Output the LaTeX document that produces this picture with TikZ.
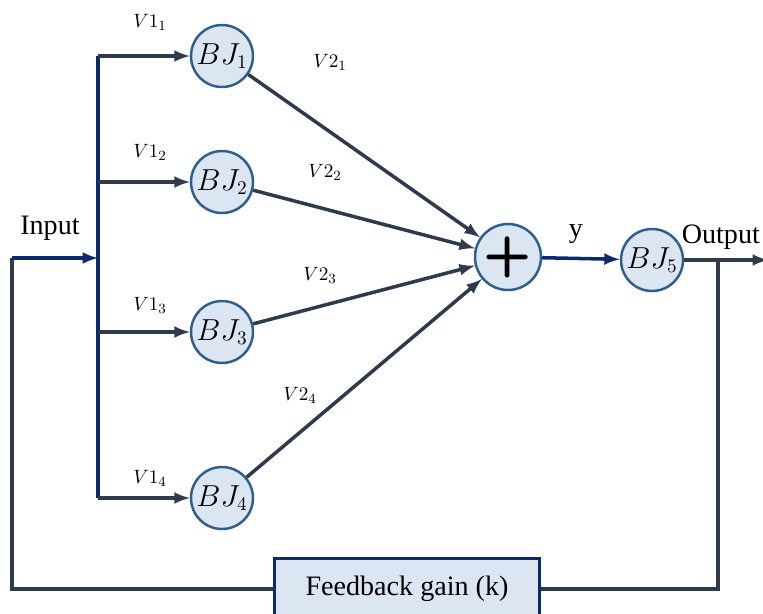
\documentclass[tikz,border=0pt]{standalone}
\usepackage{fontspec}
\setmainfont{Liberation Serif}
\usepackage{tikz}
\definecolor{navy}{HTML}{0B2A6E}
\definecolor{slate}{HTML}{2F3B4C}
\definecolor{paleblue}{HTML}{DCE6F2}
\definecolor{ringblue}{HTML}{2E5E8C}

\begin{document}
\begin{tikzpicture}[x=0.02cm, y=-0.02cm,
			every node/.style={font=\fontsize{16}{19}\selectfont, color=black},
			bj/.style={circle, draw=ringblue, fill=paleblue, line width=1.4pt, minimum size=1.24cm, inner sep=0pt, font=\fontsize{16}{18}\selectfont},
			arr/.style={-latex, line width=2pt, draw=slate},
			bus/.style={line width=2pt, draw=navy},
			fb/.style={line width=2pt, draw=slate},
			lbl/.style={font=\fontsize{11}{13}\selectfont},
			gain/.style={draw=navy, fill=paleblue, line width=2pt, minimum width=5.3cm, minimum height=1.22cm, align=center}
		]
		\useasboundingbox (0,0) rectangle (763,613);

		\node[bj] (bj1) at (222,56) {$BJ_1$};
		\node[bj] (bj2) at (222,182) {$BJ_2$};
		\node[bj] (bj3) at (222,332) {$BJ_3$};
		\node[bj] (bj4) at (222,498) {$BJ_4$};
		\node[bj, minimum size=1.32cm] (sum) at (508,257) {\fontsize{32}{32}\selectfont\sffamily\bfseries +};
		\node[bj] (bj5) at (652,260) {$BJ_5$};
		\node[gain] (gain) at (407,589) {Feedback gain (k)};

		\coordinate (bus1) at (98,56);
		\coordinate (bus2) at (98,182);
		\coordinate (bus3) at (98,332);
		\coordinate (bus4) at (98,498);
		\coordinate (busIn) at (98,258);
		\coordinate (inStart) at (12,258);
		\coordinate (tap) at (718,260);
		\coordinate (outEnd) at (768,260);

		\node (input) at (50,228) {Input};
		\node (y) at (576,234) {y};
		\node[anchor=east, inner sep=1pt] (output) at (762,237) {Output};

		\node[lbl] (v11) at (150,22) {$V1_1$};
		\node[lbl] (v12) at (150,152) {$V1_2$};
		\node[lbl] (v13) at (150,305) {$V1_3$};
		\node[lbl] (v14) at (150,478) {$V1_4$};
		\node[lbl] (v21) at (330,62) {$V2_1$};
		\node[lbl] (v22) at (325,172) {$V2_2$};
		\node[lbl] (v23) at (320,275) {$V2_3$};
		\node[lbl] (v24) at (300,395) {$V2_4$};

		\draw[bus] (bus1) -- (bus4);
		\draw[arr] (bus1) -- (bj1);
		\draw[arr] (bus2) -- (bj2);
		\draw[arr] (bus3) -- (bj3);
		\draw[arr] (bus4) -- (bj4);

		\draw[arr] (bj1) -- (sum);
		\draw[arr] (bj2) -- (sum);
		\draw[arr] (bj3) -- (sum);
		\draw[arr] (bj4) -- (sum);

		\draw[arr, draw=navy] (sum) -- (bj5);
		\draw[arr] (bj5) -- (outEnd);

		\draw[fb] (tap) |- (gain.east);
		\draw[fb] (gain.west) -| (inStart);
		\draw[arr, draw=navy] (inStart) -- (busIn);
	\end{tikzpicture}
\end{document}
